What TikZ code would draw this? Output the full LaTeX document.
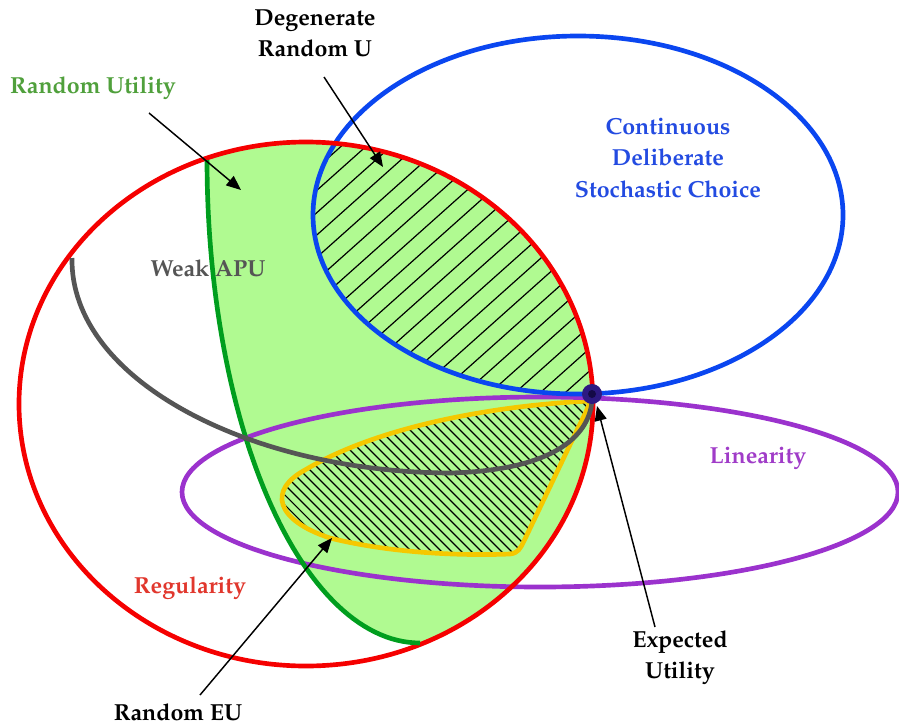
\documentclass[tikz,border=0pt]{standalone}
\usepackage[T1]{fontenc}
\usepackage{mathpazo}
\usetikzlibrary{arrows.meta}
\definecolor{cred}{RGB}{245,0,0}
\definecolor{cblue}{RGB}{10,70,240}
\definecolor{cpurple}{RGB}{155,50,205}
\definecolor{cgray}{RGB}{85,85,85}
\definecolor{cgreen}{RGB}{0,158,30}
\definecolor{gfill}{RGB}{176,250,145}
\definecolor{cyellow}{RGB}{245,200,0}
\definecolor{tgreen}{RGB}{80,160,60}
\definecolor{tblue}{RGB}{35,75,225}
\definecolor{tpurple}{RGB}{160,60,200}
\definecolor{tred}{RGB}{225,55,45}
\definecolor{dotout}{RGB}{45,25,130}
\definecolor{dotin}{RGB}{20,10,70}
\begin{document}
\begin{tikzpicture}[x=0.75pt,y=-0.75pt,
  setline/.style={line width=3.5pt},
  lbl/.style={font=\fontsize{17.4}{23.3}\selectfont\bfseries, align=center, inner sep=0pt},
  arr/.style={line width=1.1pt, -{Triangle[length=11pt,width=9pt]}},
  hatch/.style={line width=0.9pt, black}]
\useasboundingbox (0,0) rectangle (899,725);
% green fill (Random Utility)
\begin{scope}
  \clip (306,404) ellipse [x radius=215.25pt, y radius=196.5pt];
  \fill[gfill] plot[domain=180:90, samples=60] ({420+213*cos(\x)},{160+483*sin(\x)})
     -- (420,720) -- (899,720) -- (899,100) -- (207,100) -- cycle;
\end{scope}
% hatch Degenerate Random U
\begin{scope}
  \clip (306,404) ellipse [x radius=215.25pt, y radius=196.5pt];
  \clip (578,215) ellipse [x radius=198.75pt, y radius=134.25pt];
  \foreach \c in {380,405,...,1030} \draw[hatch] (\c-560,500) -- (\c,0);
\end{scope}
% Random EU region
\def\eupath{(590,401) .. controls (500,405) and (380,425) .. (305,470)
   .. controls (268,490) and (275,520) .. (330,538)
   .. controls (390,553) and (460,556) .. (510,554)
   .. controls (518,553) and (520,549) .. (524,541)
   -- (578,428) .. controls (585,414) and (589,406) .. cycle}
\begin{scope}
  \clip \eupath;
  \foreach \c in {-300,-290,...,200} \draw[hatch, line width=0.8pt] (\c,0) -- (\c+700,700);
\end{scope}
\draw[setline, cyellow, line join=round] \eupath;
% outlines
\draw[setline, cpurple] (540,492) ellipse [x radius=268.5pt, y radius=71.25pt];
\draw[setline, cblue] (578,215) ellipse [x radius=198.75pt, y radius=134.25pt];
\draw[setline, cred] (306,404) ellipse [x radius=215.25pt, y radius=196.5pt];
\draw[setline, cgreen] plot[domain=180:90, samples=60] ({420+213*cos(\x)},{160+483*sin(\x)});
\draw[setline, cgray] (72,258) .. controls (70,380) and (250,472) .. (450,473)
   .. controls (560,470) and (590,432) .. (592,400);
% Expected utility point
\fill[dotout] (592,394) circle (7.5pt);
\fill[dotin] (592,394) circle (3pt);
% labels
\node[lbl] (deg) at (315,33) {Degenerate\\Random U};
\node[lbl, text=tgreen] (ru) at (93,88) {Random Utility};
\node[lbl, text=cgray] (wapu) at (208,268) {Weak APU};
\node[lbl, text=tblue] (cdsc) at (668,158) {Continuous\\Deliberate\\Stochastic Choice};
\node[lbl, text=tpurple] (lin) at (758,458) {Linearity};
\node[lbl, text=tred] (reg) at (190,588) {Regularity};
\node[lbl] (reu) at (178,712) {Random EU};
\node[lbl] (eu) at (680,658) {Expected\\Utility};
% arrows
\coordinate (a1s) at (324,77); \coordinate (a1e) at (383,167);
\coordinate (a2s) at (149,113); \coordinate (a2e) at (241,190);
\coordinate (a3s) at (200,695); \coordinate (a3e) at (332,538);
\coordinate (a4s) at (655,627); \coordinate (a4e) at (597,406);
\draw[arr] (a1s) -- (a1e);
\draw[arr] (a2s) -- (a2e);
\draw[arr] (a3s) -- (a3e);
\draw[arr] (a4s) -- (a4e);
\end{tikzpicture}
\end{document}
